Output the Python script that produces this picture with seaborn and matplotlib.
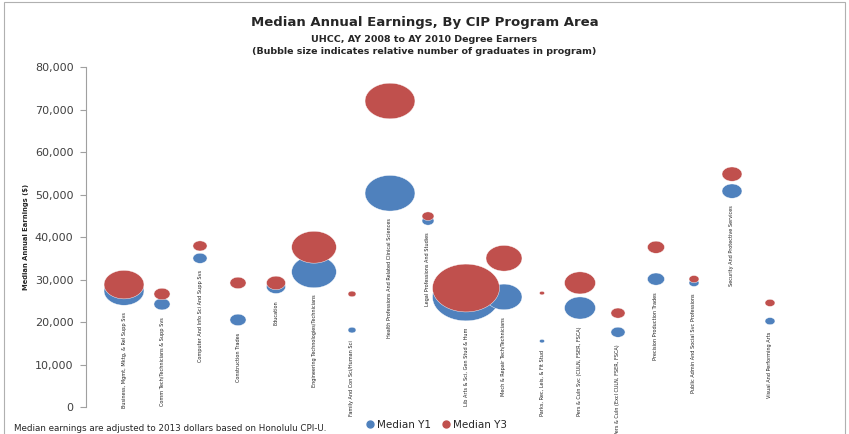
import numpy as np
import pandas as pd
import seaborn as sns
import matplotlib.pyplot as plt
from matplotlib import font_manager
from matplotlib.path import Path
from matplotlib.lines import Line2D
from matplotlib.patches import Rectangle

# program areas (in chart order)
programs = [
    'Business, Mgmt, Mktg, & Rel Supp Svs',
    'Comm Tech/Technicians & Supp Svs',
    'Computer And Info Sci And Supp Svs',
    'Construction Trades',
    'Education',
    'Engineering Technologies/Technicians',
    'Family And Con Sci/Human Sci',
    'Health Professions And Related Clinical Sciences',
    'Legal Professions And Studies',
    'Lib Arts & Sci, Gen Stud & Hum',
    'Mech & Repair Tech/Technicians',
    'Parks, Rec, Leis, & Fit Stud',
    'Pers & Culn Svc (CULN, FSER, FSCA)',
    'Pers & Culn (Excl CULN, FSER, FSCA)',
    'Precision Production Trades',
    'Public Admin And Social Svc Professions',
    'Security And Protective Services',
    'Visual And Performing Arts',
]
median_y1 = [27300, 24200, 35000, 20500, 28300, 31800, 18100, 50300, 43800,
             25900, 25900, 15500, 23300, 17600, 30100, 29200, 50800, 20200]
median_y3 = [28800, 26600, 37900, 29200, 29200, 37600, 26600, 72000, 44900,
             28000, 35000, 26800, 29200, 22100, 37600, 30100, 54800, 24500]
# relative number of graduates (bubble area)
graduates = [1600, 260, 200, 260, 360, 2000, 64, 2500, 144,
             4500, 1300, 25, 960, 200, 290, 100, 400, 100]

blue = '#4F81BD'
red = '#C0504D'

pos = np.arange(1, len(programs) + 1)
df = pd.concat([
    pd.DataFrame({'pos': pos, 'earn': median_y1, 'grads': graduates, 'series': 'Median Y1'}),
    pd.DataFrame({'pos': pos, 'earn': median_y3, 'grads': graduates, 'series': 'Median Y3'}),
], ignore_index=True)

# slightly wide bubble (source image was stretched)
aspect = 1.4
t = np.linspace(0, 2 * np.pi, 60)
ellipse = Path(np.column_stack([aspect * np.cos(t), np.sin(t)]), closed=True)

sns.set_style('white')
plt.rcParams['font.family'] = ['DejaVu Sans']

# narrow font for the data labels
names = {f.name for f in font_manager.fontManager.ttflist}
narrow = 'Liberation Sans Narrow' if 'Liberation Sans Narrow' in names else 'DejaVu Sans'

fig = plt.figure(figsize=(8.49, 4.34), dpi=100)
ax = fig.add_axes([0.1013, 0.0622, 0.8504, 0.7834])

k = 0.518  # points^2 per px^2
g = np.array(graduates)
sns.scatterplot(data=df, x='pos', y='earn', hue='series', palette=[blue, red],
                size='grads', sizes=(k * g.min(), k * g.max()), size_norm=(g.min(), g.max()),
                marker=ellipse, edgecolor='white', linewidth=0.3, alpha=1,
                legend=False, ax=ax)

# data labels under the Y1 bubble
for p, name, v, n in zip(pos, programs, median_y1, graduates):
    off = (np.sqrt(n) / (2 * aspect) + 7) * 0.72
    ax.annotate(name, (p, v), xytext=(0, -off), textcoords='offset points',
                rotation=90, ha='center', va='top', fontsize=4.0,
                family=narrow, fontstretch='condensed', color='#202020',
                annotation_clip=False)

ax.set_xlim(0, 19)
ax.set_ylim(0, 80000)
ax.set_yticks(np.arange(0, 80001, 10000))
ax.set_yticklabels([f'{v:,}' for v in range(0, 80001, 10000)], fontsize=8, color='#404040')
ax.set_xticks([])
ax.set_xlabel('')
ax.set_ylabel('Median Annual Earnings ($)', fontsize=5.4, fontweight='bold',
              family=narrow, fontstretch='condensed', labelpad=4)
ax.tick_params(axis='y', length=4, width=0.8, color='#A0A0A0', direction='out', left=True, pad=5)
for s in ['top', 'right', 'bottom']:
    ax.spines[s].set_visible(False)
ax.spines['left'].set_color('#A0A0A0')
ax.spines['left'].set_linewidth(0.8)

fig.text(0.5, 0.948, 'Median Annual Earnings, By CIP Program Area', ha='center', va='center',
         fontsize=9.5, fontweight='bold')
fig.text(0.5, 0.908, 'UHCC, AY 2008 to AY 2010 Degree Earners', ha='center', va='center',
         fontsize=6.8, fontweight='bold')
fig.text(0.5, 0.882, '(Bubble size indicates relative number of graduates in program)',
         ha='center', va='center', fontsize=6.8, fontweight='bold')

handles = [Line2D([], [], marker='o', ls='', color=blue, markersize=5),
           Line2D([], [], marker='o', ls='', color=red, markersize=5)]
fig.legend(handles, ['Median Y1', 'Median Y3'], loc='center', bbox_to_anchor=(0.514, 0.021),
           ncol=2, frameon=False, fontsize=7.5, handletextpad=0.3, columnspacing=1.0,
           handlelength=0.8)

fig.text(0.0165, 0.013, 'Median earnings are adjusted to 2013 dollars based on Honolulu CPI-U.',
         ha='left', va='center', fontsize=6.3)

fig.patches.append(Rectangle((0.005, -0.01), 0.99, 1.005, transform=fig.transFigure,
                             fill=False, edgecolor='#B0B0B0', linewidth=0.8))

fig.savefig('out.png', dpi=100)
